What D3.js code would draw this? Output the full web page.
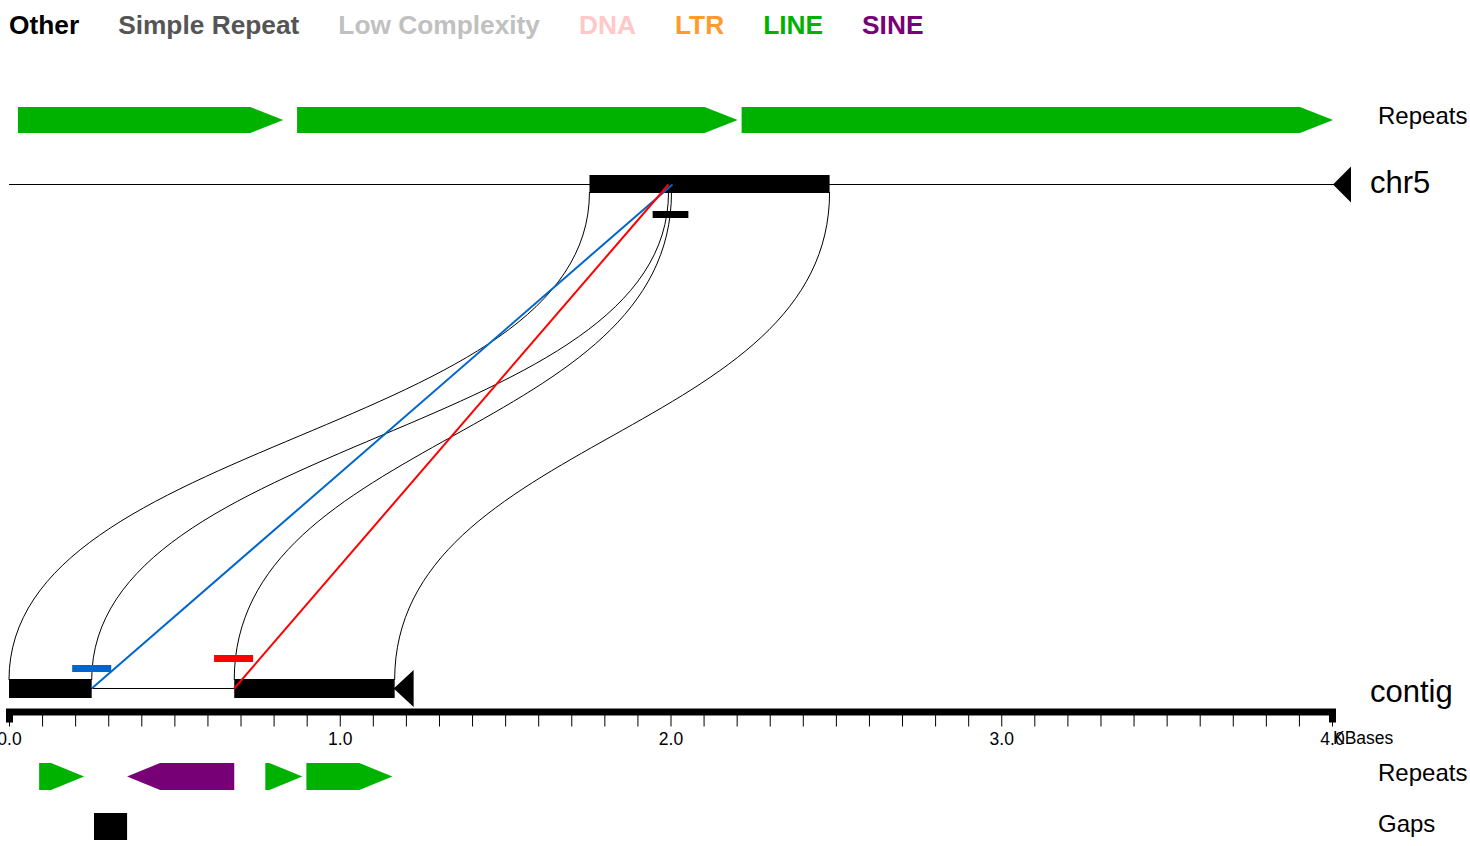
<!DOCTYPE html>
<html>
<head>
<meta charset="utf-8">
<script src="https://cdn.jsdelivr.net/npm/d3@7"></script>
<style>
  html, body { margin: 0; padding: 0; background: #fff; }
  svg { display: block; font-family: "Liberation Sans", Arial, Helvetica, sans-serif; }
</style>
</head>
<body>
<svg id="chart" width="1470" height="846"></svg>
<script>
// ---------- data (kilobases) ----------
const legendNames  = ["Other", "Simple Repeat", "Low Complexity", "DNA", "LTR", "LINE", "SINE"];
const legendColors = ["#000000", "#555555", "#c0c0c0", "#ffc8c8", "#ff9a2e", "#00b200", "#770077"];

const topRepeats = [ // [start, end, strand, class]
  [0.027, 0.829, "+", "LINE"],
  [0.871, 2.203, "+", "LINE"],
  [2.215, 4.003, "+", "LINE"]
];
const bottomRepeats = [
  [0.091, 0.227, "+", "LINE"],
  [0.357, 0.681, "-", "SINE"],
  [0.775, 0.887, "+", "LINE"],
  [0.899, 1.159, "+", "LINE"]
];
const gaps = [[0.257, 0.357]];

const chr5Extent = [0, 4.0];
const chr5Blocks = [[1.755, 2.481]];
const chr5Marks  = [[1.946, 2.054]];

const contigLength = 1.166;
const contigBlocks = [[0, 0.25], [0.681, 1.166]];

// alignment ribbons: contig position -> chr5 position
const linkContig = [0, 0.25, 0.681, 1.166];
const linkChr5   = [1.755, 1.994, 2.003, 2.481];

// breakpoint lines and markers
const breakContig = [0.25, 0.681];
const breakChr5   = [2.006, 1.994];
const breakColors = ["#0066cc", "#ff0000"];
const breakMarks  = [[0.191, 0.309], [0.620, 0.738]];

const tickValues = d3.range(0, 41).map(i => i / 10);
const tickLabels = ["0.0", "1.0", "2.0", "3.0", "4.0"];

// ---------- drawing ----------
const svg = d3.select("#chart");
const x = d3.scaleLinear().domain([0, 4]).range([9, 1332]);
const colorOf = d3.scaleOrdinal().domain(legendNames).range(legendColors);

// legend
let lx = 9;
legendNames.forEach((n, i) => {
  const t = svg.append("text").attr("x", lx).attr("y", 34)
    .attr("font-size", 26.3).attr("font-weight", "bold")
    .attr("fill", legendColors[i]).text(n);
  lx += t.node().getComputedTextLength() + 39;
});

// arrow shape
const HEAD = 33;
function arrowPath(s, e, strand, y0, y1) {
  const a = x(s), b = x(e), ym = (y0 + y1) / 2;
  if (strand === "+") {
    const h = Math.max(a, b - HEAD);
    return `M${a},${y0}L${h},${y0}L${b},${ym}L${h},${y1}L${a},${y1}Z`;
  } else {
    const h = Math.min(b, a + HEAD);
    return `M${b},${y0}L${h},${y0}L${a},${ym}L${h},${y1}L${b},${y1}Z`;
  }
}

svg.append("g").selectAll("path").data(topRepeats).join("path")
  .attr("d", d => arrowPath(d[0], d[1], d[2], 107, 133))
  .attr("fill", d => colorOf(d[3]));

svg.append("g").selectAll("path").data(bottomRepeats).join("path")
  .attr("d", d => arrowPath(d[0], d[1], d[2], 763, 790))
  .attr("fill", d => colorOf(d[3]));

svg.append("g").selectAll("rect").data(gaps).join("rect")
  .attr("x", d => x(d[0])).attr("width", d => x(d[1]) - x(d[0]))
  .attr("y", 813).attr("height", 27).attr("fill", "#000");

// ribbon curves (drawn first so bars cover ends)
const link = d3.linkVertical();
svg.append("g").selectAll("path").data(linkContig).join("path")
  .attr("d", (d, i) => link({ source: [x(d), 680], target: [x(linkChr5[i]), 192] }))
  .attr("fill", "none").attr("stroke", "#000").attr("stroke-width", 1);

// chr5
const chrY = 184.5;
svg.append("line").attr("x1", x(chr5Extent[0])).attr("x2", x(chr5Extent[1]) + 2)
  .attr("y1", chrY).attr("y2", chrY).attr("stroke", "#000").attr("stroke-width", 1);
svg.append("path")
  .attr("d", `M${x(chr5Extent[1]) + 1},${chrY}L${x(chr5Extent[1]) + 19},${chrY - 18}L${x(chr5Extent[1]) + 19},${chrY + 18}Z`)
  .attr("fill", "#000");
svg.append("g").selectAll("rect").data(chr5Blocks).join("rect")
  .attr("x", d => x(d[0])).attr("width", d => x(d[1]) - x(d[0]))
  .attr("y", 175).attr("height", 18).attr("fill", "#000");
svg.append("g").selectAll("rect").data(chr5Marks).join("rect")
  .attr("x", d => x(d[0])).attr("width", d => x(d[1]) - x(d[0]))
  .attr("y", 211).attr("height", 7).attr("fill", "#000");

// contig
const ctY = 688.5;
svg.append("line").attr("x1", x(0)).attr("x2", x(contigLength))
  .attr("y1", ctY).attr("y2", ctY).attr("stroke", "#000").attr("stroke-width", 1);
svg.append("g").selectAll("rect").data(contigBlocks).join("rect")
  .attr("x", d => x(d[0])).attr("width", d => x(d[1]) - x(d[0]))
  .attr("y", 679).attr("height", 19).attr("fill", "#000");
svg.append("path")
  .attr("d", `M${x(contigLength) - 1},${ctY}L${x(contigLength) + 19},${670}L${x(contigLength) + 19},${707}Z`)
  .attr("fill", "#000");

// breakpoint lines
svg.append("g").selectAll("line").data(breakContig).join("line")
  .attr("x1", d => x(d)).attr("y1", ctY)
  .attr("x2", (d, i) => x(breakChr5[i])).attr("y2", chrY)
  .attr("stroke", (d, i) => breakColors[i]).attr("stroke-width", 2);
svg.append("g").selectAll("rect").data(breakMarks).join("rect")
  .attr("x", d => x(d[0])).attr("width", d => x(d[1]) - x(d[0]))
  .attr("y", (d, i) => i === 0 ? 665 : 655).attr("height", 7)
  .attr("fill", (d, i) => breakColors[i]);

// axis
const axis = d3.axisBottom(x).tickValues(tickValues).tickSizeOuter(0).tickSize(11)
  .tickFormat(d => { const s = d.toFixed(1); return tickLabels.includes(s) && Math.abs(d - Math.round(d)) < 1e-9 ? s : ""; });
const ga = svg.append("g").attr("transform", "translate(0,711.5)").call(axis);
ga.select(".domain").attr("stroke", "#000").attr("stroke-width", 7);
ga.selectAll(".tick line").attr("y1", 3).attr("y2", 15).attr("stroke", "#000").attr("stroke-width", 1);
ga.selectAll(".tick text").attr("y", 33).attr("dy", 0).attr("fill", "#000")
  .attr("font-size", 17.5).attr("font-family", "'Liberation Sans', Arial, sans-serif");
svg.append("text").attr("x", 1333).attr("y", 744).attr("font-size", 17.5).attr("fill", "#000").text("KBases");

// right-side labels
const rLabels = [["Repeats", 1378, 124, 24], ["chr5", 1370, 193, 31], ["contig", 1370, 702, 31], ["Repeats", 1378, 781, 24], ["Gaps", 1378, 832, 24]];
svg.append("g").selectAll("text").data(rLabels).join("text")
  .attr("x", d => d[1]).attr("y", d => d[2]).attr("font-size", d => d[3])
  .attr("fill", "#000").text(d => d[0]);
</script>
</body>
</html>
